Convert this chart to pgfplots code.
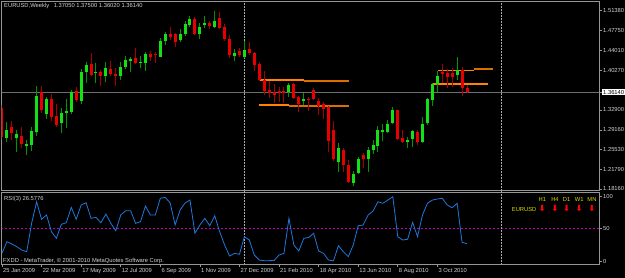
\documentclass[border=0pt]{standalone}
\usepackage{fontspec}
\setmainfont{Liberation Sans}
\newfontfamily\dejavu{DejaVu Sans}
\usepackage{pgfplots}
\usepackage{pgfplotstable}
\pgfplotsset{compat=1.18}
\definecolor{framecol}{RGB}{150,150,150}
\definecolor{labcol}{RGB}{210,210,210}
\definecolor{bodyg}{RGB}{20,225,20}
\definecolor{wickg}{RGB}{0,150,0}
\definecolor{bodyr}{RGB}{230,0,0}
\definecolor{wickr}{RGB}{165,0,0}
\definecolor{rsiblue}{RGB}{30,120,220}
\definecolor{lvl}{RGB}{190,0,190}
\definecolor{sepcol}{RGB}{170,170,170}
\definecolor{bidcol}{RGB}{110,110,110}
\definecolor{mtyellow}{RGB}{220,220,0}
\newcommand{\mt}{\fontsize{5.8pt}{6.5pt}\selectfont}
\pgfplotsset{
  orgA/.style={draw={rgb,255:red,255;green,130;blue,0}, line width=1.2pt, forget plot},
  orgB/.style={draw={rgb,255:red,220;green,110;blue,0}, line width=1.2pt, forget plot},
}

\pgfplotstableread{
x o h l c
1 1.2766 1.3064 1.2691 1.2915
3 1.2766 1.2915 1.2505 1.2840
5 1.2617 1.2728 1.2449 1.2654
6 1.2635 1.2971 1.2524 1.2896
7 1.2877 1.3734 1.2803 1.3548
9 1.3213 1.3529 1.3120 1.3492
12 1.3045 1.3324 1.2859 1.3231
13 1.3231 1.3492 1.2952 1.3268
14 1.3250 1.3659 1.3213 1.3622
16 1.3455 1.4050 1.3399 1.3995
17 1.3995 1.4181 1.3790 1.4125
19 1.3976 1.4162 1.3790 1.3995
21 1.3920 1.4181 1.3808 1.4069
24 1.3920 1.4181 1.3846 1.4088
25 1.4088 1.4293 1.4050 1.4218
26 1.4199 1.4274 1.3995 1.4237
28 1.4162 1.4293 1.4069 1.4181
29 1.4162 1.4367 1.4013 1.4330
32 1.4274 1.4628 1.4274 1.4572
33 1.4572 1.4739 1.4497 1.4702
36 1.4590 1.4795 1.4553 1.4702
37 1.4702 1.4944 1.4665 1.4888
38 1.4870 1.5037 1.4833 1.4982
40 1.4702 1.4907 1.4609 1.4833
41 1.4870 1.5037 1.4814 1.4907
43 1.4833 1.5131 1.4814 1.4944
47 1.4293 1.4423 1.4199 1.4348
49 1.4274 1.4572 1.4255 1.4404
58 1.3622 1.3790 1.3529 1.3753
61 1.3455 1.3604 1.3380 1.3492
68 1.2319 1.2673 1.2133 1.2579
71 1.1928 1.2151 1.1872 1.2095
72 1.2114 1.2412 1.2095 1.2375
74 1.2375 1.2598 1.2133 1.2542
75 1.2542 1.2728 1.2468 1.2635
76 1.2617 1.2989 1.2505 1.2915
77 1.2877 1.3026 1.2710 1.2915
78 1.2877 1.3101 1.2859 1.3026
79 1.3045 1.3343 1.3026 1.3287
82 1.2691 1.2784 1.2579 1.2728
83 1.2747 1.2915 1.2598 1.2896
85 1.2691 1.3157 1.2673 1.3026
86 1.3045 1.3510 1.3008 1.3492
87 1.3473 1.3790 1.3362 1.3771
88 1.3771 1.4013 1.3622 1.3920
92 1.3939 1.4274 1.3846 1.4032
}\greenc

\pgfplotstableread{
x o h l c
0 1.3324 1.3380 1.2728 1.2784
2 1.2971 1.3082 1.2728 1.2859
4 1.2803 1.2971 1.2579 1.2654
8 1.3622 1.3734 1.3231 1.3287
10 1.3492 1.3585 1.3082 1.3157
11 1.3175 1.3399 1.2971 1.3008
15 1.3641 1.3715 1.3436 1.3473
18 1.4144 1.4348 1.3920 1.3939
20 1.3995 1.4032 1.3734 1.3920
22 1.4050 1.4199 1.3920 1.3957
23 1.3957 1.4069 1.3734 1.3920
27 1.4255 1.4442 1.4144 1.4162
30 1.4330 1.4386 1.4199 1.4274
31 1.4330 1.4367 1.4162 1.4311
34 1.4702 1.4833 1.4590 1.4646
35 1.4702 1.4721 1.4460 1.4553
39 1.4982 1.5019 1.4684 1.4702
42 1.4907 1.4944 1.4795 1.4851
44 1.5000 1.5112 1.4795 1.4814
45 1.4833 1.4888 1.4572 1.4609
46 1.4609 1.4684 1.4255 1.4311
48 1.4386 1.4442 1.4274 1.4311
50 1.4423 1.4553 1.4311 1.4348
51 1.4348 1.4367 1.4013 1.4125
52 1.4144 1.4181 1.3827 1.3846
53 1.3846 1.4013 1.3566 1.3641
54 1.3659 1.3827 1.3510 1.3604
55 1.3622 1.3771 1.3417 1.3566
56 1.3641 1.3715 1.3436 1.3604
57 1.3641 1.3715 1.3417 1.3604
59 1.3771 1.3790 1.3492 1.3510
60 1.3529 1.3548 1.3250 1.3399
62 1.3492 1.3529 1.3268 1.3473
63 1.3659 1.3697 1.3473 1.3492
64 1.3455 1.3510 1.3194 1.3362
65 1.3399 1.3436 1.3120 1.3306
66 1.3343 1.3362 1.2505 1.2710
67 1.2915 1.3082 1.2337 1.2375
69 1.2542 1.2579 1.2133 1.2263
70 1.2263 1.2356 1.1928 1.1946
73 1.2449 1.2486 1.2207 1.2375
80 1.3287 1.3287 1.2728 1.2747
81 1.2766 1.2915 1.2673 1.2691
84 1.2877 1.2915 1.2635 1.2691
89 1.3995 1.4144 1.3790 1.3957
90 1.3976 1.4050 1.3697 1.3902
91 1.3976 1.4069 1.3715 1.3902
93 1.4032 1.4088 1.3548 1.3697
94 1.3705 1.3758 1.3602 1.3614
}\redc

\pgfplotstableread{
x r
0 12.3
1 29.7
2 26.2
3 22.0
4 16.9
5 14.3
6 58.5
7 91.2
8 64.2
9 70.8
10 45.1
11 34.9
12 56.5
13 58.9
14 82.6
15 64.2
16 86.2
17 89.7
18 65.7
19 67.2
20 58.9
21 72.3
22 58.0
23 46.6
24 70.8
25 77.4
26 77.4
27 58.0
28 60.5
29 84.6
30 70.8
31 70.8
32 96.5
33 98.0
34 89.2
35 55.4
36 78.5
37 89.2
38 93.8
39 42.6
40 55.4
41 65.7
42 54.3
43 69.7
44 45.1
45 24.6
46 7.7
47 11.8
48 10.3
49 37.4
50 32.3
51 9.2
52 1.5
53 0.5
54 0.5
55 0.8
56 9.2
57 11.8
58 65.7
59 24.6
60 15.4
61 34.9
62 36.2
63 42.6
64 15.4
65 11.8
66 1.5
67 0.3
68 23.5
69 14.3
70 6.6
71 24.6
72 54.3
73 55.4
74 70.8
75 76.9
76 91.2
77 88.8
78 93.8
79 98.9
80 37.4
81 32.3
82 33.4
83 59.5
84 37.4
85 70.8
86 88.8
87 93.8
88 95.4
89 96.5
90 86.2
91 82.0
92 88.8
93 28.8
94 26.58
}\rsi

\begin{document}
\begin{tikzpicture}
\fill[black] (0pt,0pt) rectangle (625pt,278pt);
\path[use as bounding box] (0pt,0pt) rectangle (625pt,278pt);

% ---------------- main price panel ----------------
\begin{axis}[
  at={(1.5pt,88pt)}, anchor=south west,
  scale only axis, width=597.5pt, height=188.5pt,
  xmin=-0.1, xmax=120.68, ymin=1.17974, ymax=1.53075,
  axis line style={draw=framecol, line width=0.8pt},
  xtick=\empty,
  ytick={1.1816,1.2179,1.2553,1.2916,1.3290,1.4027,1.4401,1.4775,1.5138},
  yticklabels={1.18160,1.21790,1.25530,1.29160,1.32900,1.40270,1.44010,1.47750,1.51380},
  ytick pos=right, yticklabel pos=right,
  tick align=outside, major tick length=3pt,
  tick style={draw=framecol, line width=0.6pt},
  tick label style={font=\mt, text=labcol},
  yticklabel style={anchor=west, inner sep=1pt},
  extra y ticks={1.3614}, extra y tick labels={1.36140},
  extra y tick style={yticklabel style={fill=white, text=black, inner sep=1pt}},
]
% bid line and period separators
\addplot[draw=bidcol, line width=0.8pt, forget plot] coordinates {(-1,1.3614) (122,1.3614)};
\addplot[draw=sepcol, line width=0.7pt, dash pattern=on 1.5pt off 1.5pt, forget plot] coordinates {(49,1.1) (49,1.6)};
\addplot[draw=sepcol, line width=0.7pt, dash pattern=on 1.5pt off 1.5pt, forget plot] coordinates {(101,1.1) (101,1.6)};
% support / resistance levels
\addplot[orgA] coordinates {(52,1.3846) (61,1.3846)};
\addplot[orgB] coordinates {(61,1.3827) (70.1,1.3827)};
\addplot[orgA] coordinates {(52,1.3380) (58,1.3380)};
\addplot[orgB] coordinates {(58,1.3362) (70.1,1.3362)};
\addplot[orgA] coordinates {(88.1,1.4026) (95.4,1.4026)};
\addplot[orgB] coordinates {(95.4,1.4050) (99.2,1.4050)};
\addplot[orgA] coordinates {(87.1,1.3771) (98.2,1.3771)};
% wicks
\addplot[draw=none, forget plot, error bars/.cd, y dir=plus, y explicit, error mark=none,
  error bar style={draw=wickg, line width=1pt}]
  table[x=x, y=l, y error expr=\thisrow{h}-\thisrow{l}] {\greenc};
\addplot[draw=none, forget plot, error bars/.cd, y dir=plus, y explicit, error mark=none,
  error bar style={draw=wickr, line width=1pt}]
  table[x=x, y=l, y error expr=\thisrow{h}-\thisrow{l}] {\redc};
% bodies
\addplot[draw=none, forget plot, error bars/.cd, y dir=plus, y explicit, error mark=none,
  error bar style={draw=bodyg, line width=3pt}]
  table[x=x, y=o, y error expr={max(\thisrow{c}-\thisrow{o},0.0019)}] {\greenc};
\addplot[draw=none, forget plot, error bars/.cd, y dir=plus, y explicit, error mark=none,
  error bar style={draw=bodyr, line width=3pt}]
  table[x=x, y=c, y error expr={max(\thisrow{o}-\thisrow{c},0.0019)}] {\redc};
\end{axis}

% ---------------- RSI panel ----------------
\begin{axis}[
  at={(1.5pt,14pt)}, anchor=south west,
  scale only axis, width=597.5pt, height=72pt,
  xmin=-0.1, xmax=120.68, ymin=-4.6, ymax=106.2,
  axis line style={draw=framecol, line width=0.8pt},
  xtick={0,8,16,24,32,40,48,56,64,72,80,88},
  xticklabels={25 Jan 2009,22 Mar 2009,17 May 2009,12 Jul 2009,6 Sep 2009,1 Nov 2009,27 Dec 2009,21 Feb 2010,18 Apr 2010,13 Jun 2010,8 Aug 2010,3 Oct 2010},
  xtick pos=bottom,
  ytick={0,50,100}, yticklabels={0,50,100},
  ytick pos=right, yticklabel pos=right,
  tick align=outside, major tick length=3pt,
  tick style={draw=framecol, line width=0.6pt},
  tick label style={font=\mt, text=labcol},
  yticklabel style={anchor=west, inner sep=1pt},
  xticklabel style={anchor=north west, inner sep=1pt, xshift=0pt},
]
\addplot[draw=lvl, line width=0.8pt, dash pattern=on 2pt off 2pt, forget plot] coordinates {(-1,50) (122,50)};
\addplot[draw=sepcol, line width=0.7pt, dash pattern=on 1.5pt off 1.5pt, forget plot] coordinates {(49,-10) (49,120)};
\addplot[draw=sepcol, line width=0.7pt, dash pattern=on 1.5pt off 1.5pt, forget plot] coordinates {(101,-10) (101,120)};
\addplot[draw=rsiblue, line width=0.8pt] table[x=x, y=r] {\rsi};
\end{axis}

% ---------------- texts ----------------
\node[anchor=west, font=\mt, text=labcol, inner sep=0pt] at (4pt,272pt)
  {EURUSD,Weekly\hspace{3pt} 1.37050 1.37500 1.36020 1.36140};
\node[anchor=west, font=\mt, text=labcol, inner sep=0pt] at (4pt,79pt) {RSI(3) 26.5776};
\node[anchor=west, font=\mt, text=labcol, inner sep=0pt] at (3pt,16.5pt)
  {FXDD - MetaTrader, © 2001-2010 MetaQuotes Software Corp.};
\node[anchor=west, font=\mt, text=mtyellow, inner sep=0pt] at (511.7pt,68.7pt) {EURUSD};
\foreach \xx/\lab in {542.3/H1,555/H4,566.7/D1,579.3/W1,592/MN}{
  \node[font=\mt, text=mtyellow, inner sep=0pt] at (\xx pt,78pt) {\lab};
  \node[font=\dejavu\bfseries\fontsize{8.5pt}{8.5pt}\selectfont, text=red, inner sep=0pt] at (\xx pt,69pt) {⬇};
}
\end{tikzpicture}
\end{document}
